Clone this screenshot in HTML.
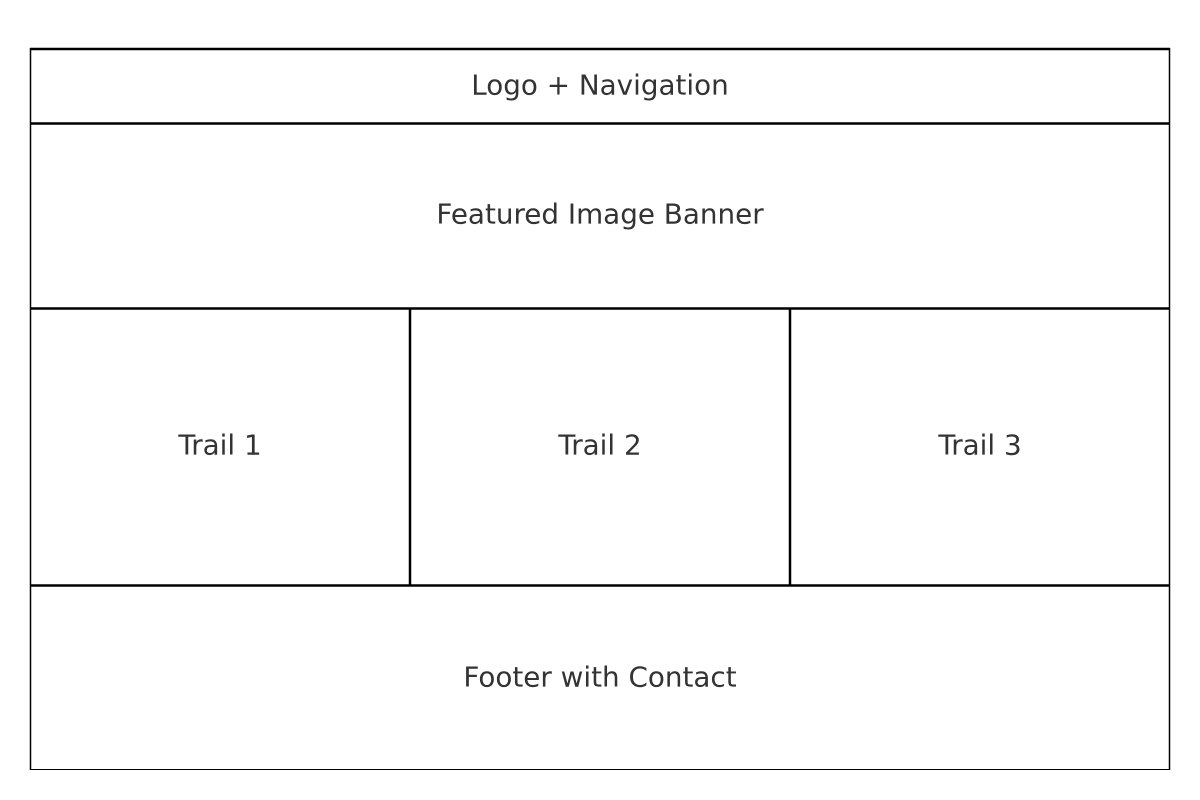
<!DOCTYPE html>
<html><head><style>html,body{margin:0;padding:0;background:#fff;}svg{display:block}</style></head>
<body>
<svg width="1200" height="800" xmlns="http://www.w3.org/2000/svg">
<rect width="1200" height="800" fill="#fff"/>
<g stroke="#000" fill="none">
<line x1="30.5" y1="48" x2="30.5" y2="770" stroke-width="1.5"/>
<line x1="1169.5" y1="48" x2="1169.5" y2="770" stroke-width="1.5"/>
<line x1="30" y1="49" x2="1170" y2="49" stroke-width="2.5"/>
<line x1="30" y1="123.5" x2="1170" y2="123.5" stroke-width="2.5"/>
<line x1="30" y1="308.5" x2="1170" y2="308.5" stroke-width="2.5"/>
<line x1="30" y1="585.5" x2="1170" y2="585.5" stroke-width="2.5"/>
<line x1="30" y1="769.5" x2="1170" y2="769.5" stroke-width="1"/>
<line x1="410" y1="308" x2="410" y2="586" stroke-width="2.5"/>
<line x1="790" y1="308" x2="790" y2="586" stroke-width="2.5"/>
</g>
<g font-family="DejaVu Sans, Liberation Sans, sans-serif" font-size="27.8" fill="#333" text-anchor="middle" dominant-baseline="central">
<text x="600" y="85">Logo + Navigation</text>
<text x="600" y="214">Featured Image Banner</text>
<text x="220" y="445">Trail 1</text>
<text x="600" y="445">Trail 2</text>
<text x="980" y="445">Trail 3</text>
<text x="600" y="677">Footer with Contact</text>
</g>
</svg>
</body></html>
